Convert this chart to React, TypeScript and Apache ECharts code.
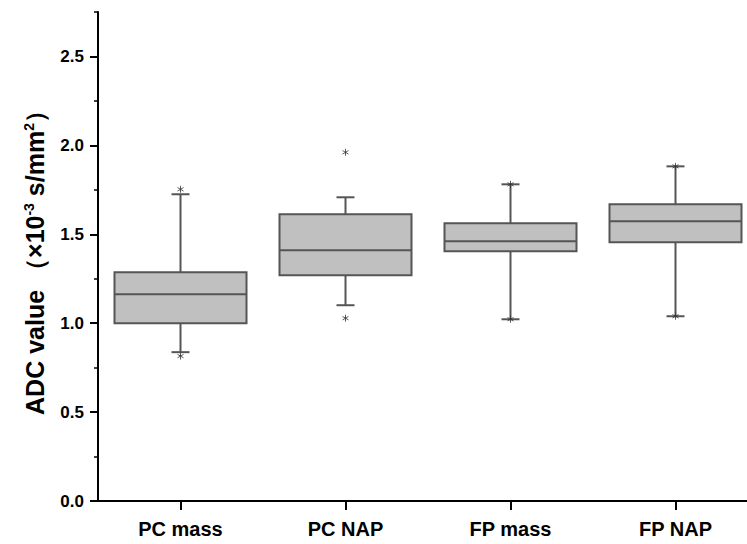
import React, { useEffect, useRef } from "react";
import * as echarts from "echarts";

const categories = ["PC mass", "PC NAP", "FP mass", "FP NAP"];
// [lower whisker, Q1, median, Q3, upper whisker]
const boxStats = [
  [0.837, 1.0, 1.163, 1.287, 1.725],
  [1.101, 1.27, 1.41, 1.612, 1.708],
  [1.022, 1.404, 1.461, 1.562, 1.781],
  [1.039, 1.455, 1.573, 1.669, 1.882],
];
// [category index, value]
const outliers = [
  [0, 1.753],
  [0, 0.815],
  [1, 1.961],
  [1, 1.028],
  [2, 1.781],
  [2, 1.022],
  [3, 1.882],
  [3, 1.039],
];
const yMajorTicks = [0, 0.5, 1.0, 1.5, 2.0, 2.5];
const xPositions = [0, 1, 2, 3];

const FONT = "'Liberation Sans', Arial, sans-serif";

export default function App() {
  const ref = useRef<HTMLDivElement>(null);
  useEffect(() => {
    if (!ref.current) return;
    const chart = echarts.init(ref.current, null, { renderer: "svg" });
    const boxData = boxStats.map((s, i) => [i, ...s]);
    const gridLeft = 98;
    const gridWidth = 747 - gridLeft;
    const band = 165;
    chart.setOption({
      animation: false,
      backgroundColor: "#ffffff",
      grid: { left: gridLeft, top: 12, width: gridWidth, height: 489, containLabel: false },
      xAxis: {
        type: "value",
        min: -0.5,
        max: -0.5 + gridWidth / band,
        axisLine: { show: true, onZero: false, lineStyle: { color: "#000", width: 2 } },
        axisTick: { show: true, inside: false, length: 9, customValues: xPositions, lineStyle: { color: "#000", width: 2 } },
        axisLabel: {
          color: "#000",
          fontFamily: FONT,
          fontWeight: "bold",
          fontSize: 20,
          margin: 18,
          customValues: xPositions,
          formatter: (v: number) => categories[Math.round(v)] ?? "",
        },
        splitLine: { show: false },
      },
      yAxis: [
        {
          type: "value",
          min: 0,
          max: 2.75,
          interval: 0.25,
          axisLine: { show: true, onZero: false, lineStyle: { color: "#000", width: 2 } },
          axisTick: { show: true, inside: false, length: 4, lineStyle: { color: "#000", width: 1.5 } },
          axisLabel: {
            color: "#000",
            fontFamily: FONT,
            fontWeight: "bold",
            fontSize: 17,
            margin: 14,
            formatter: (v: number) => (Math.round(v * 4) % 2 === 0 ? v.toFixed(1) : ""),
          },
          splitLine: { show: false },
          name: "{n|ADC value （×10}{s|-3}{n| s/mm}{s|2}{n|）}",
          nameLocation: "middle",
          nameGap: 50,
          nameRotate: 90,
          nameTextStyle: {
            rich: {
              n: { fontFamily: FONT, fontWeight: "bold", fontSize: 25, color: "#000" },
              s: { fontFamily: FONT, fontWeight: "bold", fontSize: 14, color: "#000", verticalAlign: "top", padding: [0, 0, 12, 0] },
            },
          },
        },
        {
          type: "value",
          min: 0,
          max: 2.75,
          interval: 0.5,
          axisLine: { show: false, onZero: false },
          axisTick: { show: true, inside: false, length: 8, customValues: yMajorTicks, lineStyle: { color: "#000", width: 2 } },
          axisLabel: { show: false },
          splitLine: { show: false },
          position: "left",
        },
      ],
      series: [
        {
          type: "custom",
          data: boxData,
          encode: { x: 0, y: [1, 2, 3, 4, 5] },
          renderItem: (params: any, api: any) => {
            const idx = api.value(0);
            const lo = api.coord([idx, api.value(1)]);
            const q1 = api.coord([idx, api.value(2)]);
            const med = api.coord([idx, api.value(3)]);
            const q3 = api.coord([idx, api.value(4)]);
            const hi = api.coord([idx, api.value(5)]);
            const bw = api.size([1, 0])[0] * 0.8;
            const cap = 18;
            const cx = lo[0];
            const stroke = { stroke: "#555555", lineWidth: 2 };
            return {
              type: "group",
              children: [
                { type: "line", shape: { x1: cx, y1: q3[1], x2: cx, y2: hi[1] }, style: stroke },
                { type: "line", shape: { x1: cx, y1: q1[1], x2: cx, y2: lo[1] }, style: stroke },
                { type: "line", shape: { x1: cx - cap / 2, y1: hi[1], x2: cx + cap / 2, y2: hi[1] }, style: stroke },
                { type: "line", shape: { x1: cx - cap / 2, y1: lo[1], x2: cx + cap / 2, y2: lo[1] }, style: stroke },
                {
                  type: "rect",
                  shape: { x: cx - bw / 2, y: q3[1], width: bw, height: q1[1] - q3[1] },
                  style: { fill: "#c0c0c0", stroke: "#555555", lineWidth: 2 },
                },
                { type: "line", shape: { x1: cx - bw / 2, y1: med[1], x2: cx + bw / 2, y2: med[1] }, style: stroke },
              ],
            };
          },
          z: 2,
        },
        {
          type: "scatter",
          data: outliers,
          symbol: "path://M5,0L5,10M0.7,2.5L9.3,7.5M0.7,7.5L9.3,2.5",
          symbolSize: 7,
          symbolKeepAspect: true,
          itemStyle: { color: "none", borderColor: "#333333", borderWidth: 1 },
          z: 3,
        },
      ],
    });
    return () => chart.dispose();
  }, []);
  return <div ref={ref} style={{ position: "fixed", left: 0, top: 0, width: 747, height: 544 }} />;
}
